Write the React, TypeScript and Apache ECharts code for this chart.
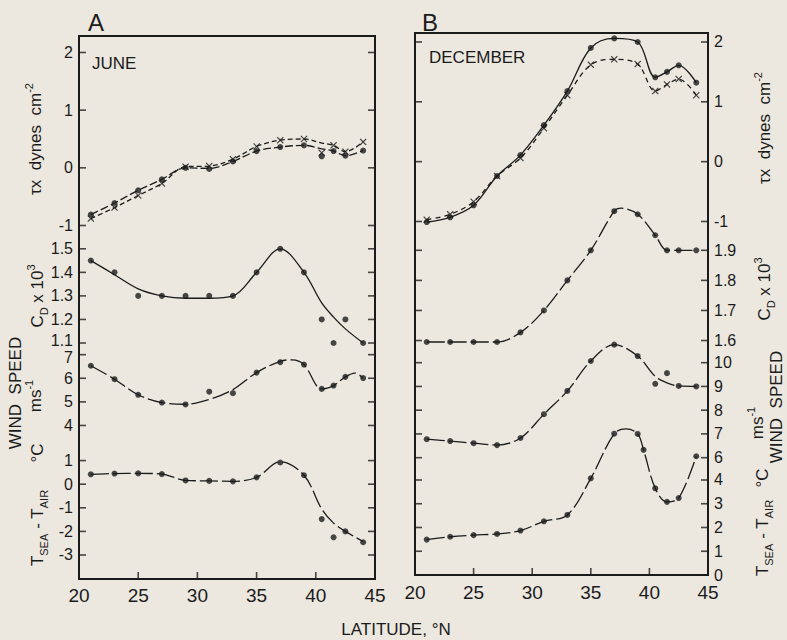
import React, { useEffect, useRef } from "react";
import * as echarts from "echarts";

// ---------- DATA ----------
const latitudes = [21, 23, 25, 27, 29, 31, 33, 35, 37, 39, 40.5, 41.5, 42.5, 44];

// Panel A — June
const juneTauDots = [-0.81, -0.61, -0.39, -0.2, 0.0, -0.02, 0.11, 0.29, 0.36, 0.39, 0.2, 0.29, 0.21, 0.3];
const juneTauDotsCurve = [-0.81, -0.61, -0.39, -0.2, 0.0, -0.01, 0.11, 0.29, 0.36, 0.39, 0.33, 0.29, 0.21, 0.3];
const juneTauCross = [-0.88, -0.69, -0.48, -0.27, 0.02, 0.03, 0.15, 0.37, 0.48, 0.5, 0.26, 0.39, 0.28, 0.45];
const juneTauCrossCurve = [-0.88, -0.69, -0.48, -0.27, 0.02, 0.03, 0.15, 0.37, 0.48, 0.5, 0.43, 0.39, 0.28, 0.45];
const juneCd = [1.45, 1.4, 1.3, 1.3, 1.3, 1.3, 1.3, 1.4, 1.5, 1.4, 1.2, 1.1, 1.2, 1.1];
const juneCdCurve = [1.45, 1.39, 1.33, 1.3, 1.29, 1.29, 1.3, 1.4, 1.5, 1.4, 1.27, 1.21, 1.16, 1.1];
const juneWind = [6.53, 5.96, 5.3, 4.97, 4.89, 5.43, 5.37, 6.24, 6.68, 6.58, 5.55, 5.69, 6.06, 6.01];
const juneWindCurveLat = [21, 23, 25, 27, 29, 31, 33, 35, 37, 38, 39, 40.5, 41.5, 42.5, 43.3, 44];
const juneWindCurve = [6.53, 5.96, 5.3, 4.97, 4.9, 5.1, 5.52, 6.24, 6.72, 6.78, 6.58, 5.55, 5.69, 6.06, 6.22, 6.01];
const juneDT = [0.42, 0.45, 0.46, 0.43, 0.16, 0.14, 0.12, 0.29, 0.92, 0.38, -1.48, -2.25, -2.0, -2.46];
const juneDTCurve = [0.42, 0.45, 0.46, 0.43, 0.16, 0.14, 0.12, 0.29, 0.95, 0.38, -1.05, -1.65, -2.0, -2.43];

// Panel B — December
const decTauDots = [-1.01, -0.93, -0.73, -0.24, 0.11, 0.61, 1.18, 1.9, 2.06, 2.0, 1.41, 1.5, 1.61, 1.32];
const decTauCross = [-0.97, -0.88, -0.67, -0.24, 0.06, 0.56, 1.11, 1.62, 1.71, 1.63, 1.18, 1.29, 1.38, 1.11];
const decCd = [1.595, 1.595, 1.595, 1.595, 1.627, 1.7, 1.8, 1.9, 2.03, 2.02, 1.95, 1.9, 1.9, 1.9];
const decCdCurveLat = [21, 23, 25, 27, 29, 31, 33, 35, 37, 37.6, 39, 40.5, 41.5, 42.5, 44];
const decCdCurve = [1.595, 1.595, 1.595, 1.595, 1.627, 1.7, 1.8, 1.9, 2.03, 2.04, 2.02, 1.95, 1.9, 1.9, 1.9];
const decWind = [6.78, 6.7, 6.61, 6.53, 6.83, 7.83, 8.81, 10.07, 10.76, 10.28, 9.11, 9.56, 9.02, 9.0];
const decWindCurve = [6.78, 6.7, 6.61, 6.53, 6.83, 7.83, 8.81, 10.07, 10.76, 10.28, 9.42, 9.15, 9.02, 9.0];
const decDTLat = [21, 23, 25, 27, 29, 31, 33, 35, 37, 39, 39.5, 40.5, 41.5, 42.5, 44];
const decDT = [1.49, 1.61, 1.68, 1.73, 1.87, 2.26, 2.53, 4.07, 5.95, 5.94, 5.27, 3.65, 3.08, 3.24, 5.0];
const decDTCurveLat = [21, 23, 25, 27, 29, 31, 33, 35, 37, 38, 39, 39.5, 40.5, 41.5, 42.5, 44];
const decDTCurve = [1.49, 1.61, 1.68, 1.73, 1.87, 2.26, 2.53, 4.07, 5.95, 6.15, 5.94, 5.27, 3.65, 3.08, 3.24, 5.0];

// Tick labels
const xTicks = [20, 25, 30, 35, 40, 45];
const xInnerTicks = [25, 30, 35, 40];
const juneTauTicks = [2, 1, 0, -1];
const juneCdTicks = [1.5, 1.4, 1.3, 1.2, 1.1];
const juneWindTicks = [7, 6, 5, 4];
const juneDTTicks = [1, 0, -1, -2, -3];
const decTauTicks = [2, 1, 0, -1];
const decCdTicks = [1.9, 1.8, 1.7, 1.6];
const decWindTicks = [10, 9, 8, 7, 6];
const decDTTicks = [4, 3, 2, 1, 0];

// Axis ranges (chosen so each quantity's ticks land where the figure has them)
const juneRanges = [[-7.13, 2.286], [0.0979, 2.4036], [-2.504, 20.5], [-4.017, 18.99]];
const decRanges = [[-6.908, 2.15], [0.8202, 2.6227], [1.061, 23.88], [0, 22.82]];

// ---------- STYLE ----------
const FONT = "Liberation Sans";
const INK = "#1b1b1b";
const BG = "#ECE8DF";
const CROSS = "path://M0,1.2L1.2,0L5,3.8L8.8,0L10,1.2L6.2,5L10,8.8L8.8,10L5,6.2L1.2,10L0,8.8L3.8,5Z";

const zip = (xs: number[], ys: number[]) => xs.map((x, i) => [x, ys[i]]);

const labelRich = {
  u: { fontSize: 16, fontFamily: FONT, color: INK, padding: [0, 0, 6, 0] },
  d: { fontSize: 16, fontFamily: FONT, color: INK, padding: [6, 0, 0, 0] },
};

function yAx(grid: number, pos: string, range: number[], ticks: number[], shiftUp?: number, shiftDown?: number) {
  return {
    type: "value",
    gridIndex: grid,
    position: pos,
    min: range[0],
    max: range[1],
    axisLine: { show: false, onZero: false },
    splitLine: { show: false },
    axisTick: { show: false },
    axisLabel: {
      customValues: ticks,
      color: INK,
      fontSize: 16,
      fontFamily: FONT,
      margin: 6,
      rich: labelRich,
      formatter: (v: number) => {
        const s = String(Math.round(v * 100) / 100);
        if (shiftUp !== undefined && Math.abs(v - shiftUp) < 1e-6) return "{u|" + s + "}";
        if (shiftDown !== undefined && Math.abs(v - shiftDown) < 1e-6) return "{d|" + s + "}";
        return s;
      },
    },
  };
}

function xAx(grid: number, margin: number) {
  return {
    type: "value",
    gridIndex: grid,
    min: 20,
    max: 45,
    position: "bottom",
    axisLine: { show: false, onZero: false },
    splitLine: { show: false },
    axisTick: { show: false },
    axisLabel: { customValues: xTicks, color: INK, fontSize: 19, fontFamily: FONT, margin },
  };
}

function dots(x: number, y: number, data: number[][], symbol = "circle", size = 6) {
  return {
    type: "scatter",
    xAxisIndex: x,
    yAxisIndex: y,
    data,
    symbol,
    symbolSize: size,
    itemStyle: { color: INK },
    z: 5,
    silent: true,
  };
}

function tickMarks(x: number, y: number, data: number[][], size: number[], offset: number[]) {
  return {
    type: "scatter",
    xAxisIndex: x,
    yAxisIndex: y,
    data,
    symbol: "rect",
    symbolSize: size,
    symbolOffset: offset,
    itemStyle: { color: INK },
    clip: false,
    z: 6,
    silent: true,
  };
}

function curve(x: number, y: number, data: number[][], type: any = "solid") {
  return {
    type: "line",
    xAxisIndex: x,
    yAxisIndex: y,
    data,
    showSymbol: false,
    smooth: 0.35,
    clip: false,
    lineStyle: { color: INK, width: 1.3, type },
    z: 3,
    silent: true,
  };
}

const rich = {
  n: { fontSize: 17, fontFamily: FONT, color: INK, lineHeight: 24, verticalAlign: "middle" },
  b: { fontSize: 17, fontFamily: FONT, color: INK, lineHeight: 20, verticalAlign: "middle" },
  sub: { fontSize: 11, fontFamily: FONT, color: INK, lineHeight: 24, verticalAlign: "bottom" },
  sup: { fontSize: 11, fontFamily: FONT, color: INK, lineHeight: 24, verticalAlign: "top" },
};

function vtext(x: number, y: number, text: string) {
  return {
    type: "text",
    x,
    y,
    rotation: Math.PI / 2,
    style: { text, rich, align: "center", verticalAlign: "middle", fill: INK },
  };
}

function htext(x: number, y: number, text: string, size: number, align = "left") {
  return {
    type: "text",
    x,
    y,
    style: { text, fontSize: size, fontFamily: FONT, fill: INK, align, verticalAlign: "middle" },
  };
}

export default function App() {
  const ref = useRef<HTMLDivElement>(null);
  useEffect(() => {
    if (!ref.current) return;
    const chart = echarts.init(ref.current, undefined, { renderer: "svg" });

    const juneTicks = [juneTauTicks, juneCdTicks, juneWindTicks, juneDTTicks];
    const decTicks = [decTauTicks, decCdTicks, decWindTicks, decDTTicks];

    const yAxis = [
      yAx(0, "left", juneRanges[0], juneTauTicks),
      yAx(0, "left", juneRanges[1], juneCdTicks, 1.1),
      yAx(0, "left", juneRanges[2], juneWindTicks, undefined, 7),
      yAx(0, "left", juneRanges[3], juneDTTicks),
      yAx(1, "right", decRanges[0], decTauTicks),
      yAx(1, "right", decRanges[1], decCdTicks),
      yAx(1, "right", decRanges[2], decWindTicks),
      yAx(1, "right", decRanges[3], decDTTicks),
    ];

    const ticks: any[] = [];
    juneTicks.forEach((t, i) => {
      ticks.push(tickMarks(0, i, t.map((v) => [20, v]), [7, 1.6], [3.5, 0]));
      ticks.push(tickMarks(0, i, t.map((v) => [45, v]), [7, 1.6], [-3.5, 0]));
    });
    decTicks.forEach((t, i) => {
      ticks.push(tickMarks(1, 4 + i, t.map((v) => [20, v]), [7, 1.6], [3.5, 0]));
      ticks.push(tickMarks(1, 4 + i, t.map((v) => [45, v]), [7, 1.6], [-3.5, 0]));
    });
    ticks.push(tickMarks(0, 3, xInnerTicks.map((x) => [x, juneRanges[3][0]]), [1.6, 7], [0, -3.5]));
    ticks.push(tickMarks(1, 7, xInnerTicks.map((x) => [x, decRanges[3][0]]), [1.6, 7], [0, -3.5]));

    const series = [
      // June
      curve(0, 0, zip(latitudes, juneTauDotsCurve), [8, 3]),
      dots(0, 0, zip(latitudes, juneTauDots)),
      curve(0, 0, zip(latitudes, juneTauCrossCurve), [5, 3]),
      dots(0, 0, zip(latitudes, juneTauCross), CROSS, 7),
      curve(0, 1, zip(latitudes, juneCdCurve)),
      dots(0, 1, zip(latitudes, juneCd)),
      curve(0, 2, zip(juneWindCurveLat, juneWindCurve), [18, 4]),
      dots(0, 2, zip(latitudes, juneWind)),
      curve(0, 3, zip(latitudes, juneDTCurve), [18, 4]),
      dots(0, 3, zip(latitudes, juneDT)),
      // December
      curve(1, 4, zip(latitudes, decTauDots)),
      dots(1, 4, zip(latitudes, decTauDots)),
      curve(1, 4, zip(latitudes, decTauCross), [5, 4]),
      dots(1, 4, zip(latitudes, decTauCross), CROSS, 7),
      curve(1, 5, zip(decCdCurveLat, decCdCurve), [18, 4]),
      dots(1, 5, zip(latitudes, decCd)),
      curve(1, 6, zip(latitudes, decWindCurve), [18, 4]),
      dots(1, 6, zip(latitudes, decWind)),
      curve(1, 7, zip(decDTCurveLat, decDTCurve), [18, 4]),
      dots(1, 7, zip(decDTLat, decDT)),
      ...ticks,
    ];

    const graphic = [
      htext(88, 22, "A", 24),
      htext(422, 22, "B", 24),
      htext(92, 63, "JUNE", 17),
      htext(429, 57, "DECEMBER", 17),
      htext(396, 629, "LATITUDE, °N", 17, "center"),
      // Panel A titles
      vtext(35, 139, "{n|τx  dynes  cm}{sup|-2}"),
      vtext(37, 296, "{n|C}{sub|D}{n| x 10}{sup|3}"),
      vtext(15, 393, "{b|WIND  SPEED}"),
      vtext(35, 396, "{n|ms}{sup|-1}"),
      vtext(37, 453, "{n|°C}"),
      vtext(37, 528, "{n|T}{sub|SEA}{n| - T}{sub|AIR}"),
      // Panel B titles
      vtext(764, 128, "{n|τx  dynes  cm}{sup|-2}"),
      vtext(764, 289, "{n|C}{sub|D}{n| x 10}{sup|3}"),
      vtext(776, 407, "{b|WIND  SPEED}"),
      vtext(757, 423, "{n|ms}{sup|-1}"),
      vtext(762, 478, "{n|°C}"),
      vtext(762, 538, "{n|T}{sub|SEA}{n| - T}{sub|AIR}"),
    ];

    chart.setOption({
      animation: false,
      backgroundColor: BG,
      grid: [
        { left: 79, top: 36, width: 296, height: 543, show: true, borderColor: INK, borderWidth: 2, backgroundColor: "transparent" },
        { left: 415, top: 33, width: 293, height: 542, show: true, borderColor: INK, borderWidth: 2, backgroundColor: "transparent" },
      ],
      xAxis: [xAx(0, 7), xAx(1, 8)],
      yAxis,
      series,
      graphic,
    });
    return () => chart.dispose();
  }, []);
  return (
    <div
      ref={ref}
      style={{ position: "fixed", left: 0, top: 0, width: 787, height: 640, background: BG }}
    />
  );
}
